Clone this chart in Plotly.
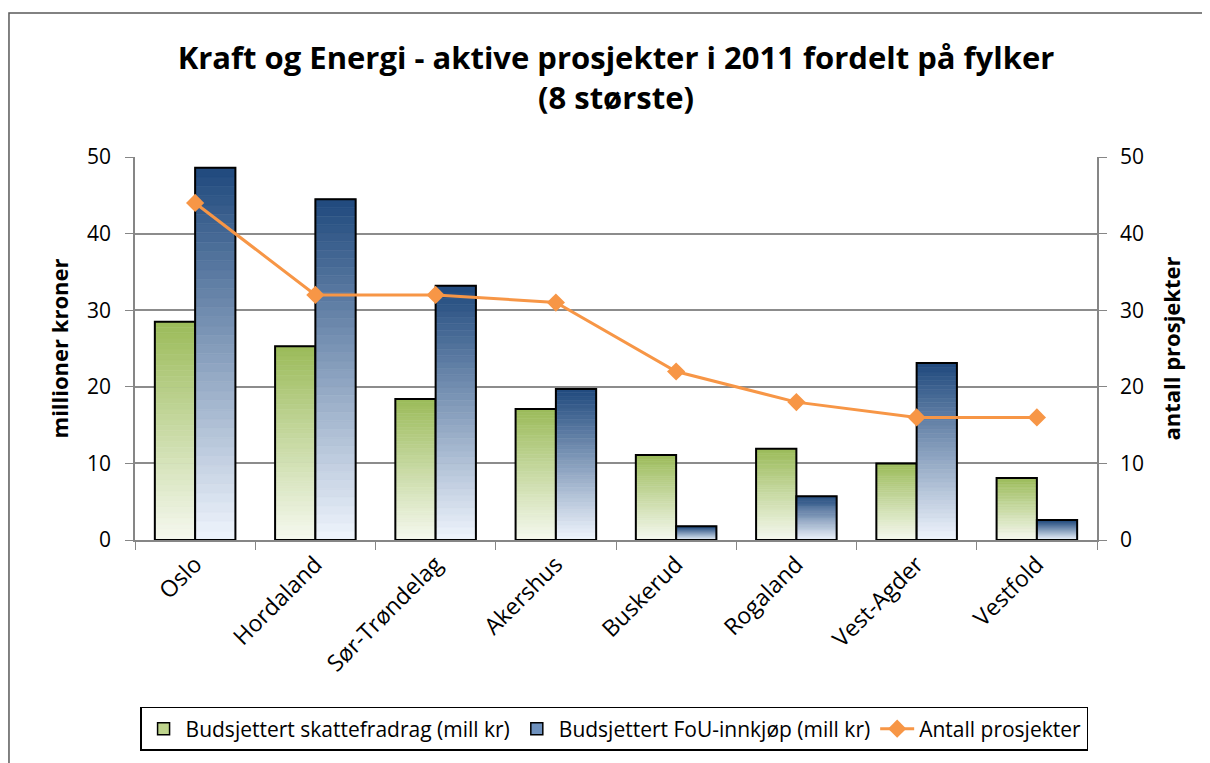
import plotly.graph_objects as go

categories = ["Oslo", "Hordaland", "Sør-Trøndelag", "Akershus", "Buskerud", "Rogaland", "Vest-Agder", "Vestfold"]
skattefradrag = [28.5, 25.3, 18.4, 17.1, 11.1, 11.9, 10.0, 8.1]
fou_innkjop = [48.6, 44.5, 33.2, 19.7, 1.8, 5.7, 23.1, 2.6]
antall_prosjekter = [44, 32, 32, 31, 22, 18, 16, 16]

N_SEG = 40

def lerp(c1, c2, t):
    return "rgb(%d,%d,%d)" % tuple(round(a + (b - a) * t) for a, b in zip(c1, c2))

fig = go.Figure()

def gradient_bars(values, top_rgb, bottom_rgb, group, name, legend_color):
    for i in range(N_SEG):
        t = (i + 0.5) / N_SEG
        col = lerp(bottom_rgb, top_rgb, t)
        fig.add_trace(go.Bar(
            x=categories, y=[v / N_SEG for v in values], base=[v * i / N_SEG for v in values],
            offsetgroup=group, marker=dict(color=col, line=dict(width=0.6, color=col)),
            showlegend=False, hoverinfo="skip"))
    fig.add_trace(go.Bar(
        x=categories, y=values, offsetgroup=group, name=name,
        marker=dict(color="rgba(0,0,0,0)", line=dict(color="black", width=2)),
        showlegend=False))
    fig.add_trace(go.Bar(
        x=categories, y=[None] * len(categories), offsetgroup=group, name=name,
        marker=dict(color=legend_color, line=dict(color="black", width=1.5)),
        showlegend=True))

gradient_bars(skattefradrag, (155, 187, 89), (246, 249, 240), "g", "Budsjettert skattefradrag (mill kr)", "rgb(190,212,140)")
gradient_bars(fou_innkjop, (31, 73, 125), (240, 245, 253), "b", "Budsjettert FoU-innkjøp (mill kr)", "rgb(110,145,190)")

fig.add_trace(go.Scatter(
    x=categories, y=antall_prosjekter, yaxis="y2", mode="lines+markers",
    name="Antall prosjekter", line=dict(color="#F79646", width=3),
    marker=dict(symbol="diamond", size=14, color="#F79646")))

FONT = "Open Sans, Lato, sans-serif"
tickfont = dict(family=FONT, size=21, color="black")
fig.update_layout(
    width=1210, height=763,
    paper_bgcolor="white", plot_bgcolor="white",
    margin=dict(l=127, r=121, t=149, b=231),
    barmode="group", bargap=0.33, bargroupgap=0,
    title=dict(text="Kraft og Energi - aktive prosjekter i 2011 fordelt på fylker<br>(8 største)",
               x=0.5, xref="paper", xanchor="center", y=0.92, yanchor="top",
               font=dict(family=FONT, size=31, color="black", weight="bold")),
    xaxis=dict(tickangle=-45, tickfont=dict(family=FONT, size=23, color="black"), ticks="outside",
               tickson="boundaries", ticklen=8, tickcolor="#868686", showline=True,
               linecolor="#868686", linewidth=1.5, showgrid=False),
    yaxis=dict(range=[0, 50], dtick=10, tickfont=tickfont, ticks="outside", ticklen=8,
               ticklabelstandoff=10,
               tickcolor="#868686", showline=True, linecolor="#868686", linewidth=1.5,
               gridcolor="#8c8c8c", gridwidth=1.5, zeroline=False,
               title=dict(text="<b>millioner kroner</b>", font=dict(family=FONT, size=22, color="black"), standoff=12)),
    yaxis2=dict(range=[0, 50], dtick=10, overlaying="y", side="right", tickfont=tickfont,
                ticks="outside", ticklen=8, ticklabelstandoff=9, tickcolor="#868686", showline=True,
                linecolor="#868686", linewidth=1.5, showgrid=False, zeroline=False,
                title=dict(text="<b>antall prosjekter</b>", font=dict(family=FONT, size=22, color="black"), standoff=22)),
    legend=dict(orientation="h", x=0.498, xanchor="center", y=-0.436, yanchor="top",
                bordercolor="black", borderwidth=1.5, font=dict(family=FONT, size=21, color="black"),
                traceorder="normal", itemwidth=34),
    shapes=[dict(type="rect", xref="paper", yref="paper", x0=-0.131, x1=1.123, y0=-0.6, y1=1.376,
                 line=dict(color="#595959", width=1.5), fillcolor="rgba(0,0,0,0)", layer="below")],
)

fig.write_html("out.html")
